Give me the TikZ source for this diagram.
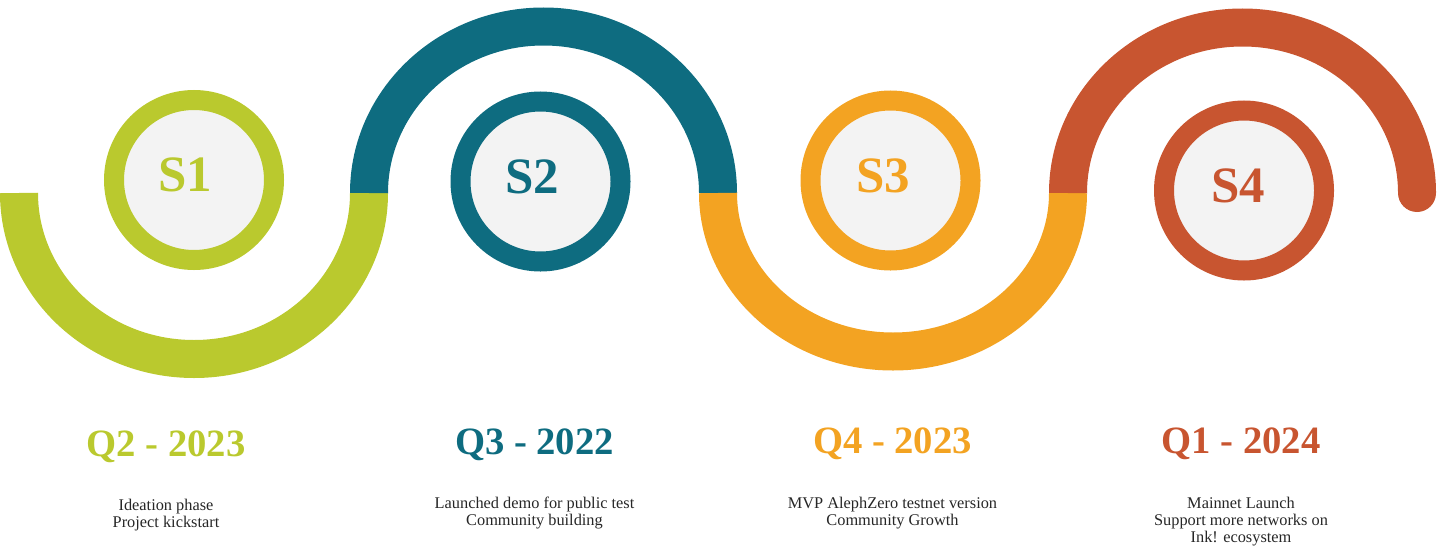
\documentclass[tikz,border=0pt]{standalone}
\usepackage{fontspec}
\setmainfont{Liberation Serif}
\usepackage{tikz}
\usetikzlibrary{positioning}
\definecolor{limeS}{HTML}{BAC92E}
\definecolor{tealS}{HTML}{0E6C80}
\definecolor{amberS}{HTML}{F3A322}
\definecolor{rustS}{HTML}{C85530}
\definecolor{discbg}{HTML}{F3F3F3}
\definecolor{notetext}{HTML}{262626}

\begin{document}
\begin{tikzpicture}[
  wave/.style={line width=0.38cm, line cap=butt},
  ring/.style={circle, draw=#1, line width=0.2cm, fill=discbg, minimum size=1.6cm, inner sep=0pt},
  stage/.style={text=#1, font=\fontsize{14.5}{16}\selectfont\bfseries, inner sep=0pt},
  quarter/.style={text=#1, anchor=base, font=\fontsize{11}{13}\selectfont\bfseries, inner sep=0pt},
  note/.style={anchor=north, align=center, text=notetext, inner sep=0pt,
    font=\fontsize{4.65}{4.85}\selectfont}]
  \useasboundingbox (0,0) rectangle (14.38,5.45);
  % --- wave path, one half ellipse per stage ---
  \coordinate (j0) at (0.19,3.52);
  \coordinate (j1) at (3.69,3.52);
  \coordinate (j2) at (7.18,3.52);
  \coordinate (j3) at (10.68,3.52);
  \draw[wave, limeS] (j0) arc[start angle=180, end angle=360, x radius=1.75, y radius=1.66];
  \draw[wave, tealS] (j1) arc[start angle=180, end angle=0, x radius=1.745, y radius=1.665];
  \draw[wave, amberS] (j2) arc[start angle=180, end angle=360, x radius=1.75, y radius=1.585];
  \draw[wave, rustS] (j3) arc[start angle=180, end angle=0, x radius=1.745, y radius=1.655]
    coordinate (j4);
  \fill[rustS] (j4) circle[radius=0.19];
  % --- stage discs ---
  \node[ring=limeS] (s1) at (1.94,3.65) {};
  \node[ring=tealS] (s2) at (5.405,3.635) {};
  \node[ring=amberS] (s3) at (8.905,3.645) {};
  \node[ring=rustS] (s4) at (12.44,3.545) {};
  \node[stage=limeS] (s1t) at ([shift={(-0.09,0.05)}]s1.center) {S1};
  \node[stage=tealS] (s2t) at ([shift={(-0.08,0.05)}]s2.center) {S2};
  \node[stage=amberS] (s3t) at ([shift={(-0.07,0.05)}]s3.center) {S3};
  \node[stage=rustS] (s4t) at ([shift={(-0.06,0.05)}]s4.center) {S4};
  % --- quarters ---
  \node[quarter=limeS] (q1) at (1.66,0.89) {Q2 - 2023};
  \node[quarter=tealS] (q2) at (5.345,0.91) {Q3 - 2022};
  \node[quarter=amberS] (q3) at (8.925,0.92) {Q4 - 2023};
  \node[quarter=rustS] (q4) at (12.41,0.92) {Q1 - 2024};
  % --- notes ---
  \node[note] (n1) at (1.66,0.47) {Ideation phase\\Project kickstart};
  \node[note] (n2) at (5.345,0.485) {Launched demo for public test\\Community building};
  \node[note] (n3) at (8.925,0.485) {MVP AlephZero testnet version\\Community Growth};
  \node[note] (n4) at (12.41,0.49) {Mainnet Launch\\Support more networks on\\Ink! ecosystem};
\end{tikzpicture}
\end{document}
